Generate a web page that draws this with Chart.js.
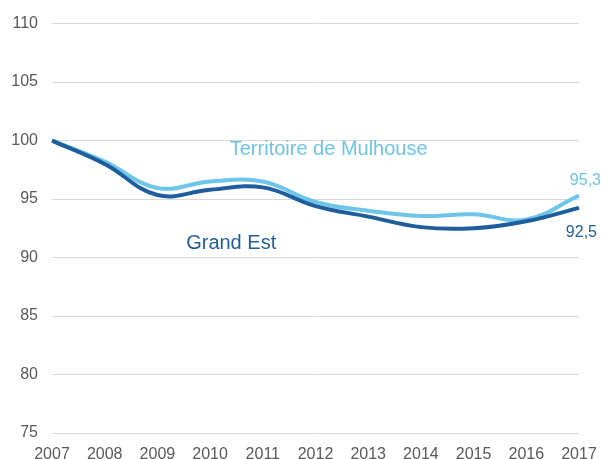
<!DOCTYPE html>
<html>
<head>
<meta charset="utf-8">
<script src="https://cdn.jsdelivr.net/npm/chart.js@4"></script>
<style>
  html, body { margin: 0; padding: 0; background: #fff; }
  #wrap { width: 602px; height: 459px; }
</style>
</head>
<body>
<div id="wrap"><canvas id="chart" width="602" height="459"></canvas></div>
<script>
// Années
const years = ['2007', '2008', '2009', '2010', '2011', '2012', '2013', '2014', '2015', '2016', '2017'];
// Indice base 100 en 2007
const mulhouse = [100, 98.2, 95.95, 96.5, 96.5, 94.75, 94.0, 93.55, 93.7, 93.25, 95.3];
const grandEst = [100, 98.0, 95.35, 95.8, 96.0, 94.4, 93.5, 92.6, 92.5, 93.1, 94.25];
const yTicks = [75, 80, 85, 90, 95, 100, 105, 110];

const lightBlue = '#6DC5EA';
const darkBlue = '#1F5E9D';

// Étiquettes de texte (libellés des séries et valeurs finales)
const labelsPlugin = {
    id: 'seriesLabels',
    afterDatasetsDraw(chart) {
        const ctx = chart.ctx;
        const x = chart.scales.x;
        const y = chart.scales.y;
        ctx.save();
        ctx.textBaseline = 'middle';
        ctx.font = '20px "Liberation Sans", Arial, sans-serif';
        ctx.textAlign = 'center';
        ctx.fillStyle = lightBlue;
        ctx.fillText('Territoire de Mulhouse', x.getPixelForValue(5.25), y.getPixelForValue(99.2));
        ctx.fillStyle = darkBlue;
        ctx.fillText('Grand Est', x.getPixelForValue(3.4), y.getPixelForValue(91.2));
        ctx.font = '16px "Liberation Sans", Arial, sans-serif';
        ctx.textAlign = 'right';
        ctx.fillStyle = lightBlue;
        ctx.fillText('95,3', 601, y.getPixelForValue(96.6));
        ctx.fillStyle = darkBlue;
        ctx.fillText('92,5', 597, y.getPixelForValue(92.1));
        ctx.restore();
    }
};

new Chart(document.getElementById('chart').getContext('2d'), {
    type: 'line',
    data: {
        labels: years,
        datasets: [
            {
                label: 'Grand Est',
                data: grandEst,
                borderColor: darkBlue,
                borderWidth: 4,
                pointRadius: 0,
                tension: 0.4,
                fill: false
            },
            {
                label: 'Territoire de Mulhouse',
                data: mulhouse,
                borderColor: lightBlue,
                borderWidth: 4,
                pointRadius: 0,
                tension: 0.4,
                fill: false
            }
        ]
    },
    options: {
        responsive: false,
        animation: false,
        layout: { padding: { top: 15, right: 23, left: 0, bottom: 0 } },
        plugins: {
            legend: { display: false },
            tooltip: { enabled: false }
        },
        scales: {
            x: {
                offset: false,
                grid: { display: false },
                border: { display: false },
                ticks: {
                    color: '#595959',
                    font: { family: '"Liberation Sans", Arial, sans-serif', size: 16 },
                    padding: 4,
                    maxRotation: 0,
                    autoSkip: false
                },
                afterFit(scale) { scale.height = 26; }
            },
            y: {
                min: 75,
                max: 110,
                afterBuildTicks(scale) { scale.ticks = yTicks.map(v => ({ value: v })); },
                grid: { color: '#D9D9D9', lineWidth: 1, drawTicks: false },
                border: { display: false },
                ticks: {
                    color: '#595959',
                    font: { family: '"Liberation Sans", Arial, sans-serif', size: 16 },
                    padding: 14
                },
                afterFit(scale) { scale.width = 52; }
            }
        }
    },
    plugins: [labelsPlugin]
});
</script>
</body>
</html>
